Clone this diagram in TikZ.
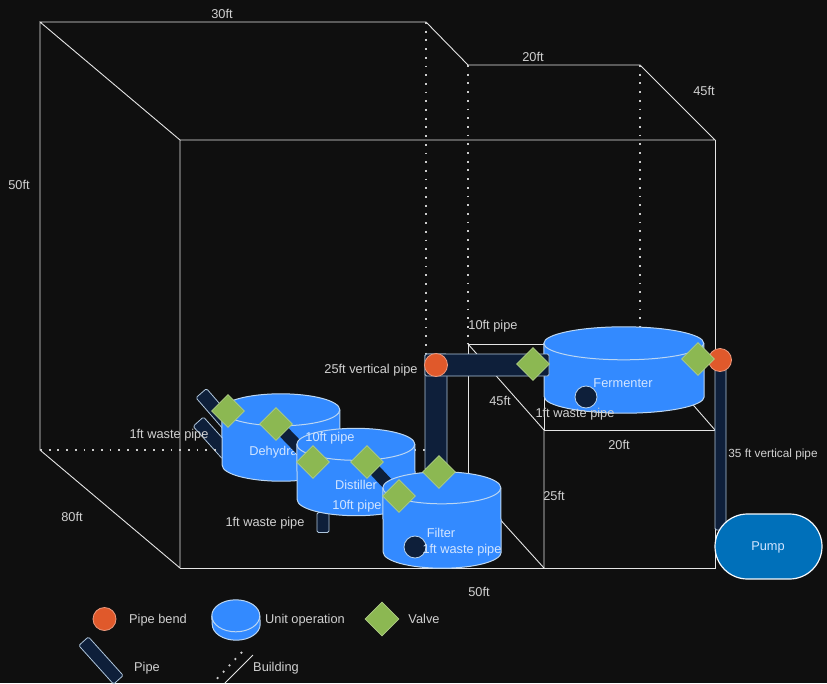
\documentclass[tikz,border=0pt]{standalone}
\usepackage{fontspec}
\setmainfont{Liberation Sans}
\usepackage{tikz}
\usetikzlibrary{positioning}
\usetikzlibrary{shapes.geometric,shapes.misc}
\definecolor{bgdark}{HTML}{0F0F0F}
\definecolor{tankblue}{HTML}{338AFF}
\definecolor{tankedge}{HTML}{BBD6F2}
\definecolor{pipedark}{HTML}{0E1F3A}
\definecolor{valvegreen}{HTML}{8CB852}
\definecolor{bendred}{HTML}{E0592B}
\definecolor{pumpblue}{HTML}{0070BA}
\tikzstyle{wall} = [draw=white!90!black, line width=0.9pt]
\tikzstyle{hidden} = [draw=white!80!black, line width=1.8pt, dash pattern=on 1.8pt off 6.9pt]
\tikzstyle{tank} = [rectangle, inner sep=0pt]
\tikzstyle{tankline} = [draw=tankedge, line width=1pt]
\tikzstyle{valve} = [diamond, draw=valvegreen!70!white, line width=0.8pt, fill=valvegreen, minimum width=33pt, minimum height=33pt, inner sep=0pt]
\tikzstyle{pipebend} = [circle, draw=bendred!60!white, line width=0.8pt, fill=bendred, minimum size=23pt, inner sep=0pt]
\tikzstyle{pipe} = [rectangle, rounded corners=1.5pt, draw=tankedge!80!gray, line width=0.8pt, fill=pipedark, inner sep=0pt]
\tikzstyle{waste} = [circle, draw=tankedge, line width=0.8pt, fill=pipedark, minimum size=22pt, inner sep=0pt]
\tikzstyle{pump} = [rounded rectangle, draw=white!85!tankedge, line width=1.2pt, fill=pumpblue, minimum width=107pt, minimum height=65pt, inner sep=0pt]
\tikzstyle{lbl} = [text=white!82!black, font=\fontsize{12.8}{14}\selectfont, inner sep=0pt, text height=8pt, text depth=0pt]
\tikzstyle{onblue} = [lbl, text=white!78!tankblue]
% name, centre, width, height, half height of the lid
\newcommand{\tankbody}[5]{
\node (#1) [tank, minimum width=#3pt, minimum height=#4pt] at (#2) {};
\path [tankline, fill=tankblue] ([yshift=-#5pt]#1.north west)
    arc[start angle=180, end angle=360, x radius=#3/2, y radius=#5]
    -- ([yshift=#5pt]#1.south east)
    arc[start angle=0, end angle=180, x radius=#3/2, y radius=#5] -- cycle;
\draw [tankline] ([yshift=-#5pt]#1.north west)
    arc[start angle=180, end angle=0, x radius=#3/2, y radius=#5];
}

\begin{document}
\begin{tikzpicture}[x=1pt, y=-1pt]
\useasboundingbox[fill=bgdark] (0,0) rectangle (827,683);

\node[coordinate] (btl) at (40,22) {};
\node[coordinate] (bbl) at (40,450) {};
\node[coordinate] (bk1) at (426,22) {};
\node[coordinate] (bk2) at (468,65) {};
\node[coordinate] (bk3) at (640,65) {};
\node[coordinate] (ftl) at (180,140) {};
\node[coordinate] (ftr) at (715,140) {};
\node[coordinate] (fbl) at (180,568) {};
\node[coordinate] (fbr) at (715,568) {};
\node[coordinate] (bk1b) at (426,450) {};
\node[coordinate] (bk2b) at (468,344) {};
\node[coordinate] (bk3b) at (640,344) {};
\node[coordinate] (st1) at (544,344) {};
\node[coordinate] (st2) at (544,430) {};
\node[coordinate] (st3) at (715,430) {};
\node[coordinate] (st4) at (544,568) {};
\node[coordinate] (st5) at (468,490) {};
\node[coordinate] (st6) at (468,484) {};

% waste pipes behind the dotted line
\node (waste_a) [pipe, rotate=-49, minimum width=42pt, minimum height=14pt] at (215,409) {};
\node (waste_b) [pipe, rotate=-48, minimum width=44pt, minimum height=14pt] at (213,438) {};

% building
\draw [wall] (btl)--(bk1)--(bk2)--(bk3)--(ftr)--(ftl)--(btl)--(bbl)--(fbl)--(ftl);
\draw [wall] (fbl)--(fbr)--(ftr);
\draw [wall] (bk2b)--(st1)--(st2)--(st3);
\draw [wall] (bk2b)--(st2)--(st4);
\draw [wall] (bk2b)--(st5);
\draw [wall] (st6)--(st4);
\draw [wall] (bk3b)--(st3);
\draw [hidden] (bbl)--(bk1b);
\draw [hidden] (bk1)--(bk1b);
\draw [hidden] (bk2)--(bk2b);
\draw [hidden] (bk3)--(bk3b);

% dehydrator
\tankbody{Dehyd}{281,437.5}{118}{87}{16}
\node (Dehyd_txt) [onblue] at (281,451) {Dehydrator};
\node (pipe_de) [pipe, rotate=-46, minimum width=52pt, minimum height=12pt, draw=none] at (294.5,443) {};
\node (v_de1) [valve] at (228,411) {};
\node (v_de2) [valve] at (276,424) {};

% distiller
\node (waste_c) [pipe, minimum width=12pt, minimum height=20pt] at (323,522.5) {};
\tankbody{Distil}{356,472}{118}{87}{16}
\node (Distil_txt) [onblue] at (356,485) {Distiller};
\node (pipe_df) [pipe, rotate=-47, minimum width=46pt, minimum height=12pt, draw=none] at (383,479) {};
\node (v_di1) [valve] at (313,462) {};
\node (v_di2) [valve] at (367,462) {};

% pipes to the fermenter
\node (pipe_v) [pipe, minimum width=22pt, minimum height=116pt] at (436,412) {};
\node (pipe_r) [pipe, minimum width=11pt, minimum height=166pt] at (720.5,447) {};
\tankbody{Filter}{442,520}{118}{96}{16}
\node (Filter_txt) [onblue] at (441,533) {Filter};
\node (waste_d) [waste] at (415,547) {};
\tankbody{Ferm}{624,370}{160}{86}{16.5}
\node (Ferm_txt) [onblue] at (623,383) {Fermenter};
\node (waste_e) [waste] at (586,397) {};
\node (pipe_h) [pipe, minimum width=124pt, minimum height=22pt] at (487,365) {};
\node (b1) [pipebend] at (436,365) {};
\node (b2) [pipebend] at (720,360) {};
\node (v_f1) [valve] at (399,496) {};
\node (v_f2) [valve] at (439,472) {};
\node (v_t1) [valve] at (533,364) {};
\node (v_t2) [valve] at (698,359) {};
\node (Pump) [pump] at (768.5,546.5) {};
\node (Pump_txt) [onblue] at (768,546) {Pump};

% labels
\node (l1) [lbl] at (222,14) {30ft};
\node (l2) [lbl] at (533,57) {20ft};
\node (l3) [lbl] at (704,91) {45ft};
\node (l4) [lbl] at (19,185) {50ft};
\node (l5) [lbl] at (72,517) {80ft};
\node (l6) [lbl] at (479,592) {50ft};
\node (l7) [lbl] at (554,496) {25ft};
\node (l8) [lbl] at (619,445) {20ft};
\node (l9) [lbl] at (500,401) {45ft};
\node (l10) [lbl] at (493,325) {10ft pipe};
\node (l11) [lbl] at (371,369) {25ft vertical pipe};
\node (l12) [lbl] at (575,413) {1ft waste pipe};
\node (l13) [lbl, font=\fontsize{11.8}{13}\selectfont] at (773,453) {35 ft vertical pipe};
\node (l14) [lbl] at (169,434) {1ft waste pipe};
\node (l15) [onblue] at (330,437) {10ft pipe};
\node (l16) [onblue] at (357,505) {10ft pipe};
\node (l17) [lbl] at (265,522) {1ft waste pipe};
\node (l18) [onblue] at (462,549) {1ft waste pipe};

% legend
\node (k_bend) [pipebend] at (104.5,619) {};
\tankbody{k_tank}{236,620}{48}{40}{16}
\node (k_valve) [valve, minimum width=34pt, minimum height=34pt] at (382,619) {};
\node (k_pipe) [pipe, rotate=-48, minimum width=52pt, minimum height=13pt] at (101,660.5) {};
\node[coordinate] (k1) at (253,655) {};
\node[coordinate] (k2) at (225,683) {};
\node[coordinate] (k3) at (242,652) {};
\node[coordinate] (k4) at (213,683) {};
\draw [wall] (k1)--(k2);
\draw [hidden] (k3)--(k4);
\node (t1) [lbl] at (158,619) {Pipe bend};
\node (t2) [lbl] at (305,619) {Unit operation};
\node (t3) [lbl] at (424,619) {Valve};
\node (t4) [lbl] at (147,667) {Pipe};
\node (t5) [lbl] at (276,667) {Building};
\end{tikzpicture}
\end{document}
